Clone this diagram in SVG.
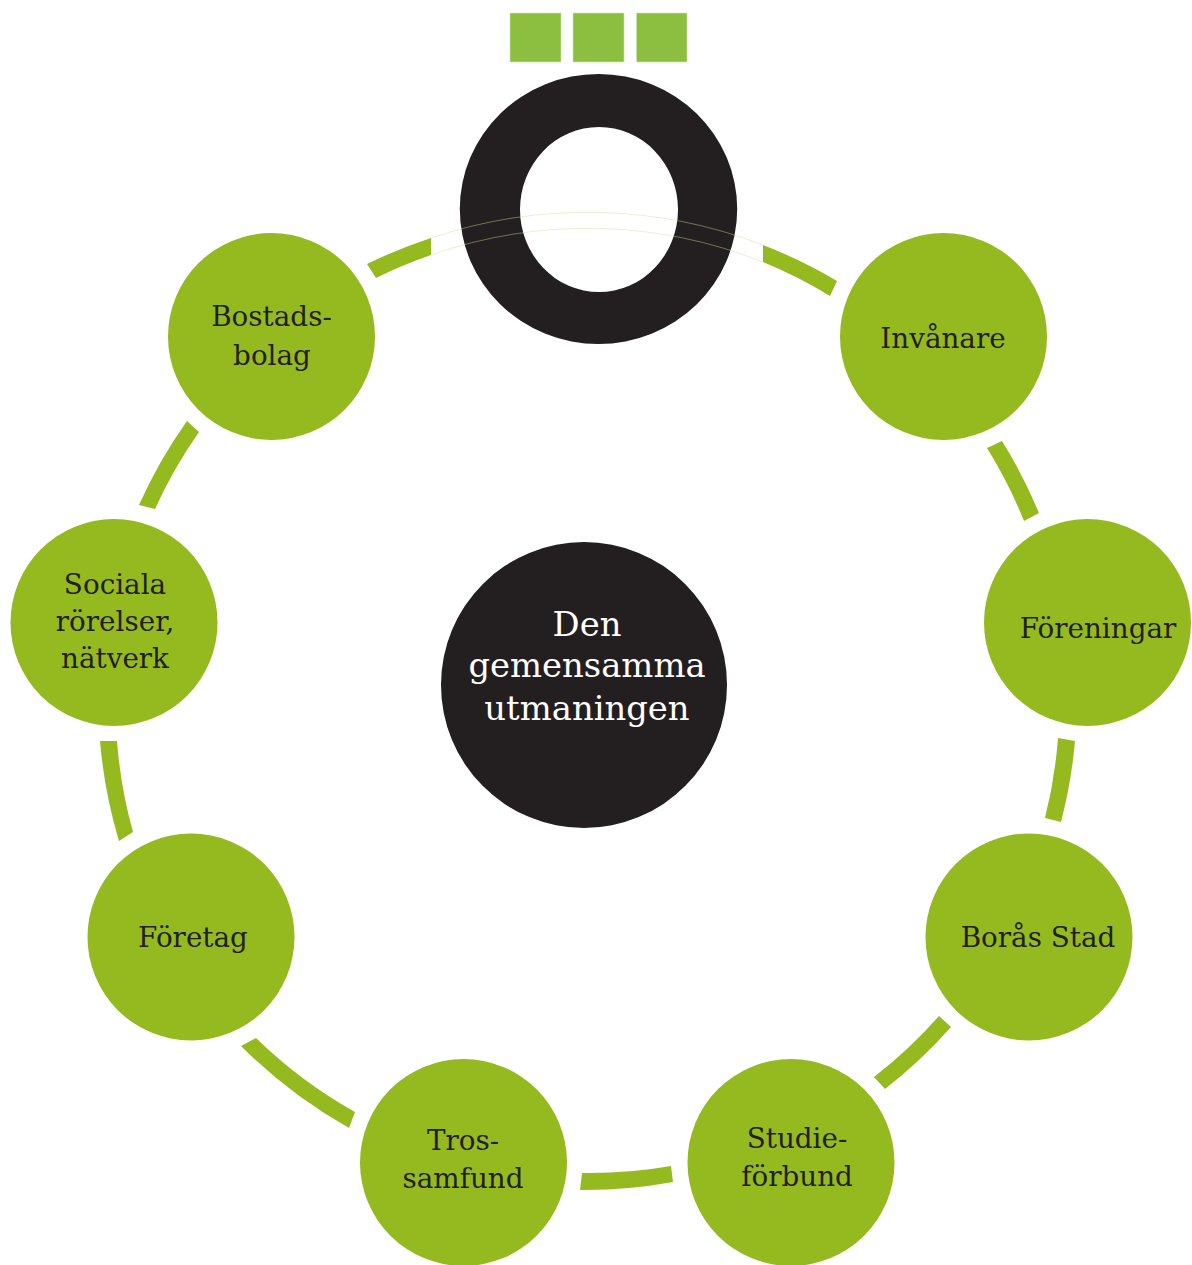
<svg xmlns="http://www.w3.org/2000/svg" width="1192" height="1265" viewBox="0 0 1192 1265">
<style>
.seg{fill:#95ba1f}
.node{fill:#95ba1f}
.sq{fill:#8cbf3f;stroke:#d4e6b0;stroke-width:.6}
.faint{fill:none;stroke:#d3d89a;stroke-width:.6;opacity:.75}
text{font-family:"DejaVu Serif","Liberation Serif",serif;text-anchor:middle;fill:#231f20;font-size:27.800px}
.c text{fill:#fff;font-size:33.800px}
</style>
<rect width="1192" height="1265" fill="#fff"/>
<g id="logo">
<rect class="sq" x="510" y="13" width="51" height="49"/>
<rect class="sq" x="573" y="13" width="51" height="49"/>
<rect class="sq" x="636.500" y="13" width="50.500" height="49"/>
<path fill="#231f20" fill-rule="evenodd" d="M459.800 209a138.700 135 0 1 0 277.400 0a138.700 135 0 1 0-277.400 0ZM520 209.500a79 82.500 0 1 1 158 0a79 82.500 0 1 1-158 0Z"/>
</g>
<g id="connectors">
<path class="seg" d="M763 245A488 488 0 0 1 837 281L830 296A472 472 0 0 0 763 262Z"/>
<path class="seg" d="M1002 441A488 488 0 0 1 1039 513L1024 521A472 472 0 0 0 987 448Z"/>
<path class="seg" d="M1075 741A488 488 0 0 1 1061 822L1045 818A472 472 0 0 0 1058 738Z"/>
<path class="seg" d="M951 1027A488 488 0 0 1 885 1089L874 1077A472 472 0 0 0 939 1016Z"/>
<path class="seg" d="M673 1182A488 488 0 0 1 580 1190L582 1173A472 472 0 0 0 671 1166Z"/>
<path class="seg" d="M349 1128A488 488 0 0 1 241 1046L256 1038A472 472 0 0 0 355 1112Z"/>
<path class="seg" d="M119 841A488 488 0 0 1 100 741L117 741A472 472 0 0 0 133 832Z"/>
<path class="seg" d="M139 505A488 488 0 0 1 187 421L199 432A472 472 0 0 0 155 509Z"/>
<path class="seg" d="M367 264A488 488 0 0 1 431 238L431 255A472 472 0 0 0 376 278Z"/>
<path class="faint" d="M431 238A488 488 0 0 1 763 245"/>
<path class="faint" d="M431 255A472 472 0 0 1 763 262"/>
</g>
<g id="center" class="c">
<circle cx="584" cy="685" r="143" fill="#231f20"/>
<text x="587" y="636">Den</text>
<text x="587" y="677">gemensamma</text>
<text x="587" y="720">utmaningen</text>
</g>
<g id="invanare"><circle class="node" cx="943.500" cy="336.500" r="103.500"/><text x="943" y="348">Invånare</text></g>
<g id="foreningar"><circle class="node" cx="1087.500" cy="622.500" r="103.500"/><text x="1098" y="638">Föreningar</text></g>
<g id="boras-stad"><circle class="node" cx="1029" cy="937" r="103.500"/><text x="1038" y="947">Borås Stad</text></g>
<g id="studieforbund"><circle class="node" cx="791" cy="1162.500" r="103.500"/><text x="797" y="1148">Studie-</text><text x="797" y="1186">förbund</text></g>
<g id="trossamfund"><circle class="node" cx="463.500" cy="1162.500" r="103.500"/><text x="463" y="1150">Tros-</text><text x="463" y="1188">samfund</text></g>
<g id="foretag"><circle class="node" cx="191" cy="937" r="103.500"/><text x="193" y="947">Företag</text></g>
<g id="sociala"><circle class="node" cx="114" cy="622.500" r="103.500"/><text x="115" y="594">Sociala</text><text x="115" y="631">rörelser,</text><text x="115" y="668">nätverk</text></g>
<g id="bostadsbolag"><circle class="node" cx="271.500" cy="336.500" r="103.500"/><text x="271.500" y="326">Bostads-</text><text x="272" y="365">bolag</text></g>
</svg>
